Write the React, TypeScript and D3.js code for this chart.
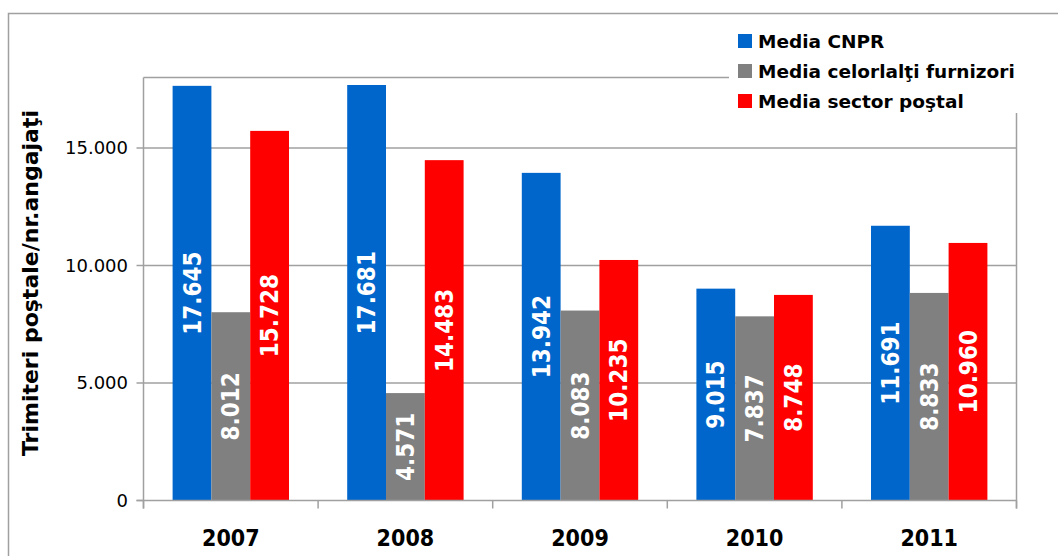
import React from "react";
import * as d3 from "d3";

const years = ["2007", "2008", "2009", "2010", "2011"];
const seriesNames = ["Media CNPR", "Media celorlalţi furnizori", "Media sector poştal"];
const seriesColors = ["#0066CC", "#808080", "#FF0000"];
const cnpr = [17645, 17681, 13942, 9015, 11691];
const altii = [8012, 4571, 8083, 7837, 8833];
const sector = [15728, 14483, 10235, 8748, 10960];
const yTicks = [0, 5000, 10000, 15000];
const yMax = 18000;
const yTitle = "Trimiteri poştale/nr.angajaţi";

const W = 1058;
const H = 556;
const left = 143.5;
const right = 1016.5;
const top = 77.5;
const bottom = 500.5;

const fmt = (v: number) => d3.format(",")(v).replace(/,/g, ".");

export default function App() {
  const series = [cnpr, altii, sector];
  const x0 = d3.scaleBand<string>().domain(years).range([left, right]).padding(0);
  const bw = x0.bandwidth();
  const x1 = d3
    .scaleBand<number>()
    .domain([0, 1, 2])
    .range([(bw * 0.75) / 4.5, (bw * 3.75) / 4.5])
    .padding(0);
  const y = d3.scaleLinear().domain([0, yMax]).range([bottom, top]);
  const grid = "#a0a0a0";
  const condensed = "'DejaVu Sans Condensed', 'DejaVu Sans', sans-serif";
  const sans = "'DejaVu Sans', Verdana, sans-serif";

  return (
    <svg width={W} height={H} style={{ position: "absolute", left: 0, top: 0, background: "#fff" }}>
      <rect x={8.5} y={13.5} width={1200} height={700} fill="#fff" stroke={grid} strokeWidth={1.5} />
      {/* gridlines */}
      {yTicks.filter((t) => t > 0).map((t) => (
        <line key={t} x1={left} x2={right} y1={y(t)} y2={y(t)} stroke={grid} strokeWidth={1.5} />
      ))}
      {/* plot border */}
      <line x1={left} x2={right} y1={y(yMax)} y2={y(yMax)} stroke={grid} strokeWidth={1.5} />
      <line x1={right} x2={right} y1={y(yMax)} y2={bottom + 8} stroke={grid} strokeWidth={1.5} />
      <line x1={left} x2={left} y1={y(yMax)} y2={bottom + 8} stroke={grid} strokeWidth={1.5} />
      {/* bars */}
      {years.map((yr, i) => (
        <g key={yr} transform={`translate(${x0(yr)},0)`}>
          {series.map((s, j) => (
            <rect
              key={j}
              x={x1(j)}
              y={y(s[i])}
              width={x1.bandwidth()}
              height={bottom - y(s[i])}
              fill={seriesColors[j]}
            />
          ))}
        </g>
      ))}
      {/* axis */}
      <line x1={left - 7} x2={right} y1={bottom} y2={bottom} stroke={grid} strokeWidth={1.5} />
      {yTicks.map((t) => (
        <g key={t}>
          <line x1={left - 7} x2={left} y1={y(t)} y2={y(t)} stroke={grid} strokeWidth={1.5} />
          <text
            x={128}
            y={y(t)}
            dy="0.36em"
            textAnchor="end"
            fontFamily={sans}
            fontSize={18}
            fill="#000"
          >
            {fmt(t)}
          </text>
        </g>
      ))}
      {[...years.map((yr) => x0(yr) as number), right].map((xv, k) => (
        <line key={k} x1={xv} x2={xv} y1={bottom} y2={bottom + 8} stroke={grid} strokeWidth={1.5} />
      ))}
      {years.map((yr) => (
        <text
          key={yr}
          x={(x0(yr) as number) + bw / 2}
          y={546}
          textAnchor="middle"
          fontFamily={condensed}
          fontWeight="bold"
          fontSize={23}
          fill="#000"
        >
          {yr}
        </text>
      ))}
      {/* bar labels */}
      {years.map((yr, i) =>
        series.map((s, j) => {
          const cx = (x0(yr) as number) + (x1(j) as number) + x1.bandwidth() / 2;
          const cy = (y(s[i]) + bottom) / 2;
          return (
            <text
              key={yr + j}
              transform={`translate(${cx},${cy}) rotate(-90)`}
              textAnchor="middle"
              dy="0.36em"
              fontFamily={condensed}
              fontWeight="bold"
              fontSize={24}
              fill="#fff"
            >
              {fmt(s[i])}
            </text>
          );
        })
      )}
      {/* y title */}
      <text
        transform={`translate(${37.5},${283}) rotate(-90)`}
        textAnchor="middle"
        fontFamily={sans}
        fontWeight="bold"
        fontSize={22}
        fill="#000"
      >
        {yTitle}
      </text>
      {/* legend */}
      <rect x={729} y={24} width={300} height={89} fill="#fff" />
      {seriesNames.map((n, j) => (
        <g key={n} transform={`translate(738,${41 + j * 30})`}>
          <rect x={0} y={-7} width={14} height={14} fill={seriesColors[j]} />
          <text x={20} y={0} dy="0.36em" fontFamily={sans} fontWeight="bold" fontSize={18.5} fill="#000">
            {n}
          </text>
        </g>
      ))}
    </svg>
  );
}
